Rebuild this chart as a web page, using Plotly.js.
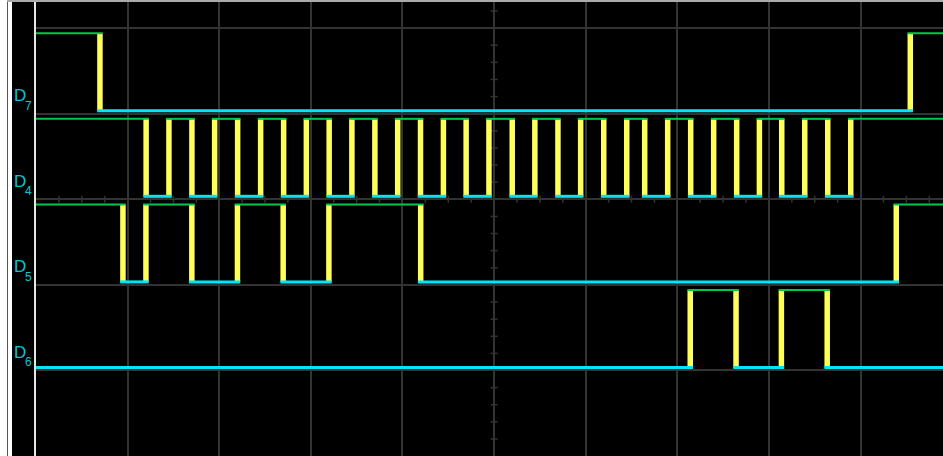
<!DOCTYPE html>
<html><head><meta charset="utf-8">
<script src="https://cdn.plot.ly/plotly-3.0.1.min.js"></script>
<style>
html,body{margin:0;padding:0;background:#fff;width:943px;height:456px;overflow:hidden;}
#frameL{position:absolute;left:7px;top:0;width:1px;height:456px;background:#555;}
#frameT{position:absolute;left:7px;top:0;width:936px;height:2px;background:#aaa;}
#plot{position:absolute;left:12px;top:2px;width:931px;height:454px;}
</style></head><body>
<div id="frameL"></div><div id="frameT"></div><div id="plot"></div>
<script>
// Logic channels, top to bottom
const channelNames = ['D7', 'D4', 'D5', 'D6'];
const initialStates = [1, 1, 1, 0];
// Transition times (in divisions)
const edgesD7 = [0.698, 9.543];
const edgesD4 = [1.202, 1.451, 1.702, 1.950, 2.201, 2.452, 2.703, 2.951, 3.200, 3.448,
                 3.699, 3.948, 4.197, 4.447, 4.695, 4.944, 5.198, 5.445, 5.697, 5.945,
                 6.197, 6.448, 6.644, 6.895, 7.146, 7.397, 7.648, 7.896, 8.140, 8.391,
                 8.642, 8.893];
const edgesD5 = [0.949, 1.200, 1.701, 2.199, 2.698, 3.197, 4.199, 9.390];
const edgesD6 = [7.141, 7.641, 8.136, 8.636];
const edgeLists = [edgesD7, edgesD4, edgesD5, edgesD6];
const timeStart = 0, timeEnd = 9.9;

const plotW = 907, pxPerY = 85.6;
const pxPerX = plotW / (timeEnd - timeStart);
const ext = 2.8 / pxPerX;
const labelFont = 'Liberation Sans, Arial, sans-serif';
const labelColor = '#00c8d4';

const gx = [], gy = [], cx = [], cy = [], yx = [], yy = [];
const annotations = [];
channelNames.forEach((name, i) => {
  const lane = channelNames.length - 1 - i;
  const lo = lane + 0.035, hi = lane + 0.94;
  const edges = edgeLists[i];
  const times = [timeStart].concat(edges, [timeEnd]);
  let state = initialStates[i];
  for (let j = 0; j < times.length - 1; j++) {
    const x0 = j > 0 ? times[j] - ext : times[j];
    const x1 = j < times.length - 2 ? times[j + 1] + ext : times[j + 1];
    if (state) { gx.push(x0, x1, null); gy.push(hi, hi, null); }
    else { cx.push(x0, x1, null); cy.push(lo, lo, null); }
    state = 1 - state;
  }
  edges.forEach(e => { yx.push(e, e, null); yy.push(lo, hi, null); });
  annotations.push({
    text: name.slice(0, 1),
    xref: 'paper', x: -23 / plotW, xanchor: 'left',
    yref: 'y', y: lo + 15 / pxPerY, yanchor: 'middle',
    showarrow: false, borderpad: 0,
    font: {family: labelFont, size: 17, color: labelColor}
  });
  annotations.push({
    text: name.slice(1),
    xref: 'paper', x: -12 / plotW, xanchor: 'left',
    yref: 'y', y: lo + 5 / pxPerY, yanchor: 'middle',
    showarrow: false, borderpad: 0,
    font: {family: labelFont, size: 12, color: labelColor}
  });
});

const traces = [
  {x: yx, y: yy, mode: 'lines', line: {color: '#ffff5a', width: 5.5}, hoverinfo: 'skip'},
  {x: cx, y: cy, mode: 'lines', line: {color: '#00e6f6', width: 3}, hoverinfo: 'skip'},
  {x: gx, y: gy, mode: 'lines', line: {color: '#00c84a', width: 2}, hoverinfo: 'skip'}
];

// center graticule ticks
const gridColor = '#333333';
const shapes = [];
const yr = [-0.999, 4.305];
const tickHx = 3.5 / pxPerX, tickHy = 3.5 / pxPerY;
for (let k = 0; k * 0.2 + yr[0] <= yr[1]; k++) {
  const v = -1 + k * 0.2;
  if (Math.abs(v - Math.round(v)) < 1e-6) continue;
  shapes.push({type: 'line', xref: 'x', yref: 'y', x0: 5 - tickHx, x1: 5 + tickHx, y0: v, y1: v, line: {color: gridColor, width: 1.5}, layer: 'below'});
}
for (let k = 0; k * 0.25 <= timeEnd; k++) {
  const t = k * 0.25;
  if (Math.abs(t - Math.round(t)) < 1e-6) continue;
  shapes.push({type: 'line', xref: 'x', yref: 'y', x0: t, x1: t, y0: 2 - tickHy, y1: 2 + tickHy, line: {color: gridColor, width: 1.5}, layer: 'below'});
}

const layout = {
  width: 931, height: 454,
  margin: {l: 24, r: 0, t: 0, b: 0, pad: 0},
  paper_bgcolor: '#000', plot_bgcolor: '#000',
  showlegend: false,
  xaxis: {range: [timeStart, timeEnd], dtick: 1, tick0: 0, showgrid: true, gridcolor: gridColor, gridwidth: 2,
          zeroline: false, showticklabels: false, ticks: '', showline: false, fixedrange: true},
  yaxis: {range: yr, dtick: 1, tick0: 0, showgrid: true, gridcolor: gridColor, gridwidth: 2,
          zeroline: false, showticklabels: false, ticks: '', showline: true, linecolor: '#e6e6e6', linewidth: 2, fixedrange: true},
  shapes: shapes,
  annotations: annotations
};
Plotly.newPlot('plot', traces, layout, {staticPlot: true, displayModeBar: false});
</script>
</body></html>
